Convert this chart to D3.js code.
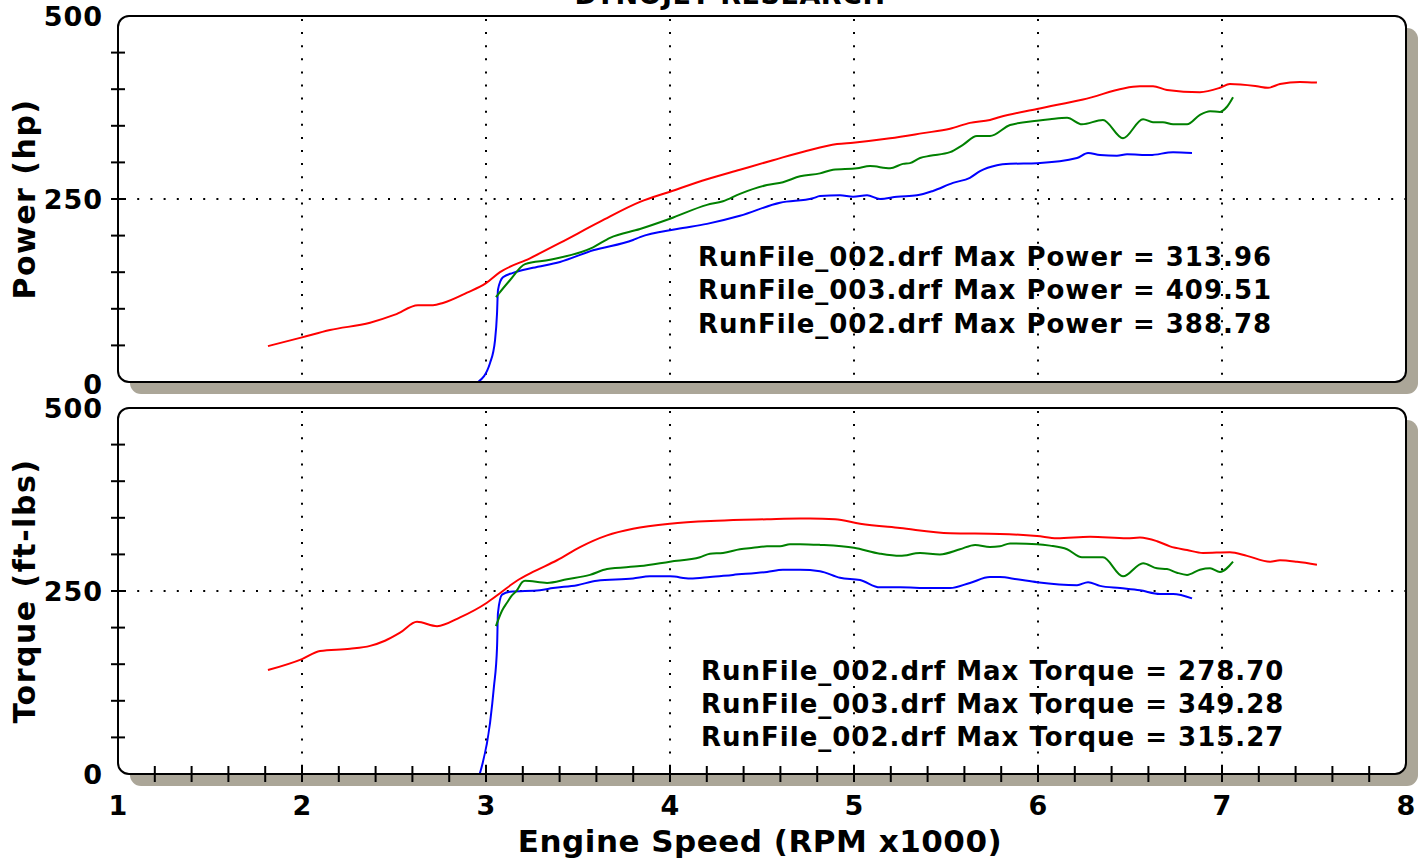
<!DOCTYPE html>
<html>
<head>
<meta charset="utf-8">
<script src="https://cdn.jsdelivr.net/npm/d3@7"></script>
<style>
  html, body { margin: 0; padding: 0; background: #fff; }
  svg { display: block; }
  text { font-family: "DejaVu Sans", Verdana, sans-serif; font-weight: bold; fill: #000; }
</style>
</head>
<body>
<svg id="chart" width="1424" height="861"></svg>
<script>
// ---------------- DATA ----------------
const chartTitle = "DYNOJET RESEARCH";
const xTickLabels = [1, 2, 3, 4, 5, 6, 7, 8];
const yTickLabels = [0, 250, 500];
const xAxisTitle = "Engine Speed (RPM x1000)";
const powerTitle = "Power (hp)";
const torqueTitle = "Torque (ft-lbs)";

const seriesNames = ["RunFile_002.drf", "RunFile_003.drf", "RunFile_002.drf"];
const seriesColors = ["#0000ff", "#ff0000", "#008000"];
const maxPower = ["313.96", "409.51", "388.78"];
const maxTorque = ["278.70", "349.28", "315.27"];

// [rpm x1000, hp]
const powerBlue = [[2.957,0],[3.022,26],[3.049,57],[3.060,94],[3.065,126],[3.092,143],[3.147,149],[3.255,156],[3.402,164],[3.582,180],[3.799,194],[3.837,198],[4.038,209],[4.201,216],[4.380,227],[4.598,245],[4.777,251],[4.815,254],[4.924,255],[4.995,253],[5.071,255],[5.141,250],[5.234,253],[5.342,255],[5.429,261],[5.538,272],[5.630,279],[5.685,288],[5.777,296],[5.848,298],[5.995,299],[6.212,306],[6.272,313],[6.337,310],[6.429,309],[6.484,311],[6.609,310],[6.734,314],[6.837,313]];
const powerRed = [[1.815,49],[2.0,61],[2.152,71],[2.370,81],[2.505,92],[2.630,105],[2.712,105],[2.766,108],[2.897,122],[3.0,135],[3.076,150],[3.239,169],[3.402,190],[3.620,219],[3.837,246],[4.0,260],[4.201,277],[4.380,290],[4.560,303],[4.745,316],[4.908,325],[4.995,327],[5.196,333],[5.375,340],[5.522,346],[5.630,354],[5.739,358],[5.793,362],[5.995,373],[6.245,386],[6.554,404],[6.625,404],[6.701,399],[6.880,396],[6.989,402],[7.043,407],[7.190,404],[7.250,402],[7.315,407],[7.424,410],[7.516,409]];
const powerGreen = [[3.054,116],[3.130,139],[3.212,161],[3.348,167],[3.582,184],[3.674,197],[3.837,209],[4.0,223],[4.201,242],[4.288,247],[4.380,257],[4.527,269],[4.614,273],[4.707,281],[4.815,285],[4.886,290],[5.016,292],[5.087,295],[5.196,292],[5.266,298],[5.304,299],[5.359,306],[5.413,309],[5.522,314],[5.592,324],[5.668,336],[5.739,336],[5.848,351],[5.995,357],[6.065,359],[6.158,361],[6.239,352],[6.353,358],[6.462,333],[6.571,359],[6.625,355],[6.679,355],[6.734,352],[6.810,352],[6.880,365],[6.935,370],[6.989,369],[7.027,376],[7.060,389]];

// [rpm x1000, ft-lbs]
const torqueBlue = [[2.967,1],[3.022,70],[3.043,119],[3.060,173],[3.065,220],[3.087,245],[3.130,249],[3.293,251],[3.364,254],[3.495,258],[3.603,264],[3.799,267],[3.891,270],[4.0,270],[4.109,267],[4.217,269],[4.342,272],[4.527,276],[4.614,279],[4.707,279],[4.815,277],[4.924,268],[5.033,265],[5.141,255],[5.25,255],[5.413,254],[5.522,254],[5.630,261],[5.739,269],[5.793,269],[5.886,266],[5.995,262],[6.212,258],[6.272,262],[6.337,257],[6.446,254],[6.554,251],[6.663,246],[6.734,246],[6.837,240]];
const torqueRed = [[1.815,142],[2.0,157],[2.098,168],[2.261,171],[2.370,175],[2.451,182],[2.533,193],[2.625,208],[2.734,202],[2.859,214],[3.005,234],[3.076,247],[3.168,264],[3.255,276],[3.386,292],[3.511,310],[3.658,326],[3.799,335],[4.0,342],[4.255,346],[4.527,348],[4.707,349],[4.761,349],[4.897,348],[5.033,342],[5.25,336],[5.522,329],[5.793,328],[5.995,325],[6.103,322],[6.283,324],[6.484,322],[6.554,323],[6.647,318],[6.717,311],[6.810,306],[6.897,302],[7.043,303],[7.136,298],[7.261,290],[7.315,292],[7.408,290],[7.516,286]];
const torqueGreen = [[3.054,202],[3.087,223],[3.114,234],[3.141,244],[3.168,251],[3.196,262],[3.212,264],[3.332,261],[3.440,266],[3.565,272],[3.658,280],[3.837,284],[4.0,290],[4.163,296],[4.217,301],[4.288,302],[4.380,307],[4.451,309],[4.527,311],[4.598,311],[4.652,314],[4.707,314],[4.815,313],[5.0,309],[5.141,301],[5.25,298],[5.359,302],[5.467,300],[5.576,307],[5.658,313],[5.739,310],[5.793,311],[5.848,315],[5.995,314],[6.065,312],[6.158,307],[6.239,296],[6.353,296],[6.462,270],[6.571,288],[6.647,281],[6.701,280],[6.755,275],[6.810,272],[6.880,279],[6.935,281],[6.989,276],[7.060,290]];

// ---------------- DRAW ----------------
const svg = d3.select("#chart");
const W = 1424, H = 861;
svg.append("rect").attr("width", W).attr("height", H).attr("fill", "#fff");

const x = d3.scaleLinear().domain([1, 8]).range([118, 1406]);
const panels = [
  { title: powerTitle, y: d3.scaleLinear().domain([0, 500]).range([382, 16]),
    series: [powerBlue, powerRed, powerGreen], maxVals: maxPower, label: "Max Power",
    annX: 698, annY: [266, 299, 333], titleY: 199, xTicks: false },
  { title: torqueTitle, y: d3.scaleLinear().domain([0, 500]).range([774, 408]),
    series: [torqueBlue, torqueRed, torqueGreen], maxVals: maxTorque, label: "Max Torque",
    annX: 701, annY: [680, 713, 746], titleY: 591, xTicks: true }
];
const shadowColor = "#aba698";
const radius = 11;

panels.forEach((p, pi) => {
  const x0 = x.range()[0], x1 = x.range()[1];
  const y0 = p.y.range()[1], y1 = p.y.range()[0];
  const g = svg.append("g");
  // shadow
  g.append("rect").attr("x", x0 + 12).attr("y", y0 + 12)
    .attr("width", x1 - x0).attr("height", y1 - y0)
    .attr("rx", radius).attr("fill", shadowColor);
  // panel
  g.append("rect").attr("x", x0).attr("y", y0)
    .attr("width", x1 - x0).attr("height", y1 - y0)
    .attr("rx", radius).attr("fill", "#fff");

  // grid (dotted)
  const gridX = d3.range(2, 8);
  g.selectAll(".gx").data(gridX).join("line")
    .attr("x1", d => x(d)).attr("x2", d => x(d))
    .attr("y1", y0 + 3).attr("y2", y1)
    .attr("stroke", "#000").attr("stroke-width", 2)
    .attr("stroke-dasharray", "2,11.1");
  g.append("line")
    .attr("x1", x0 + 6).attr("x2", x1)
    .attr("y1", p.y(250)).attr("y2", p.y(250))
    .attr("stroke", "#000").attr("stroke-width", 2)
    .attr("stroke-dasharray", "2,11.2");

  // series
  const line = d3.line().x(d => x(d[0])).y(d => p.y(d[1])).curve(d3.curveMonotoneX);
  p.series.forEach((s, i) => {
    g.append("path").datum(s).attr("d", line)
      .attr("fill", "none").attr("stroke", seriesColors[i])
      .attr("stroke-width", 2).attr("stroke-linejoin", "round");
  });

  // annotations
  p.annY.forEach((yy, i) => {
    g.append("text").attr("x", p.annX).attr("y", yy)
      .attr("font-size", 26).attr("letter-spacing", 1)
      .text(`${seriesNames[i]} ${p.label} = ${p.maxVals[i]}`);
  });

  // frame
  g.append("rect").attr("x", x0).attr("y", y0)
    .attr("width", x1 - x0).attr("height", y1 - y0)
    .attr("rx", radius).attr("fill", "none")
    .attr("stroke", "#000").attr("stroke-width", 2);

  // y minor ticks
  const yMinor = d3.range(50, 500, 50);
  g.selectAll(".yt").data(yMinor).join("line")
    .attr("x1", x0 - 7).attr("x2", x0 + 7)
    .attr("y1", d => p.y(d)).attr("y2", d => p.y(d))
    .attr("stroke", "#000").attr("stroke-width", 2);

  // y labels
  g.selectAll(".yl").data(yTickLabels).join("text")
    .attr("x", 103).attr("y", d => p.y(d) + (d === 0 && pi === 0 ? 2 : 0))
    .attr("dy", "0.36em").attr("text-anchor", "end")
    .attr("font-size", 27).attr("letter-spacing", 1).text(d => d);

  // y title
  g.append("text")
    .attr("transform", `translate(35,${p.titleY}) rotate(-90)`)
    .attr("text-anchor", "middle").attr("font-size", 30).attr("letter-spacing", 1.5)
    .text(p.title);

  if (p.xTicks) {
    const xMinor = d3.range(1.2, 7.9, 0.2);
    g.selectAll(".xt").data(xMinor).join("line")
      .attr("x1", d => x(d)).attr("x2", d => x(d))
      .attr("y1", y1 - 8).attr("y2", y1 + 8)
      .attr("stroke", "#000").attr("stroke-width", 2);
  }
});

// x labels
svg.selectAll(".xl").data(xTickLabels).join("text")
  .attr("x", d => x(d)).attr("y", 815)
  .attr("text-anchor", "middle").attr("font-size", 27).text(d => d);

svg.append("text").attr("x", 760).attr("y", 852)
  .attr("text-anchor", "middle").attr("font-size", 31).attr("letter-spacing", 0.5).text(xAxisTitle);

svg.append("text").attr("x", 730).attr("y", 4)
  .attr("text-anchor", "middle").attr("font-size", 27).attr("letter-spacing", 0.5).text(chartTitle);
</script>
</body>
</html>
